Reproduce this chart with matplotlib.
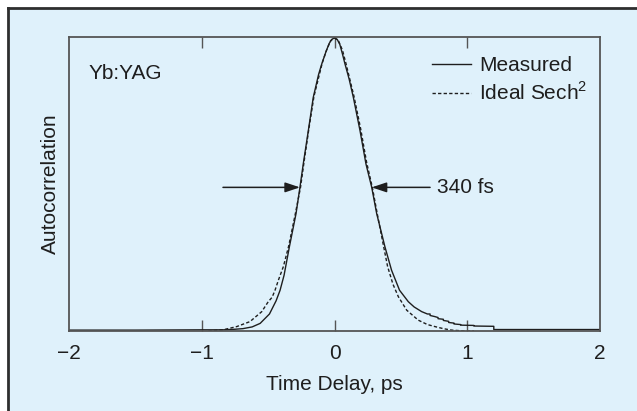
import matplotlib

matplotlib.use("Agg")
import matplotlib.pyplot as plt
from matplotlib.lines import Line2D
from matplotlib.patches import Rectangle

plt.rcParams["font.family"] = ["Liberation Sans", "DejaVu Sans"]
plt.rcParams["mathtext.fontset"] = "custom"
plt.rcParams["mathtext.rm"] = "Liberation Sans"

BG = "#dff1fb"
INK = "#1e1e1e"
FRAME = "#555555"

# measured autocorrelation trace (time delay in ps, normalised signal)
measured_t = [
    -2.00, -1.50, -1.00, -0.84, -0.75, -0.69, -0.62, -0.56, -0.49, -0.44,
    -0.41, -0.38, -0.34, -0.29, -0.26, -0.235, -0.197, -0.16, -0.12, -0.096,
    -0.065, -0.04, -0.02, 0.0, 0.02, 0.04, 0.06, 0.079, 0.11, 0.142,
    0.192, 0.237, 0.28, 0.318, 0.38, 0.43, 0.49, 0.556, 0.60, 0.657,
    0.70, 0.72, 0.72, 0.757, 0.78, 0.78, 0.82, 0.82, 0.86, 0.86,
    0.90, 0.90, 0.95, 0.95, 1.05, 1.05, 1.20, 1.20, 2.00,
]
measured_y = [
    0.003, 0.003, 0.004, 0.004, 0.006, 0.008, 0.014, 0.026, 0.058, 0.103,
    0.139, 0.190, 0.287, 0.400, 0.491, 0.571, 0.684, 0.797, 0.875, 0.911,
    0.952, 0.981, 0.995, 1.000, 0.995, 0.978, 0.945, 0.911, 0.860, 0.797,
    0.684, 0.570, 0.491, 0.400, 0.287, 0.207, 0.139, 0.100, 0.082, 0.066,
    0.058, 0.058, 0.053, 0.049, 0.046, 0.042, 0.040, 0.036, 0.033, 0.029,
    0.027, 0.024, 0.022, 0.020, 0.019, 0.017, 0.016, 0.005, 0.005,
]

# ideal sech^2 autocorrelation
ideal_t = [
    -0.95, -0.84, -0.737, -0.637, -0.548, -0.499, -0.47, -0.448, -0.423, -0.385,
    -0.345, -0.295, -0.256, -0.23, -0.193, -0.155, -0.092, -0.06, -0.03, 0.0,
    0.03, 0.06, 0.085, 0.147, 0.197, 0.242, 0.285, 0.322, 0.365, 0.40,
    0.44, 0.481, 0.544, 0.631, 0.70, 0.757, 0.82, 0.883, 0.98, 1.05,
]
ideal_y = [
    0.000, 0.004, 0.015, 0.032, 0.066, 0.100, 0.115, 0.139, 0.173, 0.220,
    0.290, 0.400, 0.490, 0.575, 0.690, 0.800, 0.915, 0.958, 0.990, 1.000,
    0.990, 0.958, 0.915, 0.800, 0.690, 0.575, 0.490, 0.400, 0.300, 0.220,
    0.160, 0.117, 0.071, 0.037, 0.022, 0.015, 0.008, 0.003, 0.000, 0.000,
]

x_ticks = [-2, -1, 0, 1, 2]
x_tick_labels = ["\u22122", "\u22121", "0", "1", "2"]
half_max = 0.49
arrow_left = (-0.84, -0.26)
arrow_right = (0.72, 0.28)


def draw_background(fig):
    fig.patch.set_facecolor("white")
    fig.add_artist(Rectangle((8 / 637, 0), 1, 1 - 9 / 411, transform=fig.transFigure,
                             facecolor=BG, edgecolor="none", zorder=-2))
    top = 1 - 8.5 / 411
    fig.add_artist(Line2D([8 / 637, 1], [top, top], color="#2e2e2e", lw=2.0))
    fig.add_artist(Line2D([8 / 637, 8 / 637], [0, top], color="#2e2e2e", lw=2.0))


def main():
    fig = plt.figure(figsize=(6.37, 4.11), dpi=100)
    draw_background(fig)
    ax = fig.add_axes([69 / 637, 80 / 411, 531 / 637, 294 / 411])
    ax.set_facecolor(BG)

    ax.plot(measured_t, measured_y, color=INK, lw=1.0, label="Measured")
    ax.plot(ideal_t, ideal_y, color=INK, lw=1.0, dashes=(2.4, 1.6), label="Ideal Sech$^2$")

    ax.set_xlim(-2, 2)
    ax.set_ylim(0, 1.003)
    ax.set_xticks(x_ticks)
    ax.set_xticklabels(x_tick_labels)
    ax.set_yticks([])
    ax.tick_params(axis="x", direction="in", length=8, width=1.0, color=FRAME,
                   top=True, labelsize=15, labelcolor=INK, pad=9)
    for tick in ax.xaxis.get_major_ticks():
        if tick.get_loc() in (-2, 2):
            tick.tick1line.set_visible(False)
            tick.tick2line.set_visible(False)
    for spine in ax.spines.values():
        spine.set_color(FRAME)
        spine.set_linewidth(1.3)

    ax.set_xlabel("Time Delay, ps", fontsize=15, color=INK)
    ax.xaxis.set_label_coords(0.5, -0.15)
    ax.xaxis.label.set_va("top")
    ax.set_ylabel("Autocorrelation", fontsize=15, color=INK)
    ax.yaxis.set_label_coords(-0.017, 0.5)

    ax.text(-1.85, 0.88, "Yb:YAG", fontsize=15, color=INK, ha="left", va="center")

    head = dict(arrowstyle="-|>,head_length=0.6,head_width=0.2", mutation_scale=15,
                color=INK, lw=1.1, shrinkA=0, shrinkB=0)
    ax.annotate("", xy=(arrow_left[1], half_max), xytext=(arrow_left[0], half_max), arrowprops=head)
    ax.annotate("", xy=(arrow_right[1], half_max), xytext=(arrow_right[0], half_max), arrowprops=head)
    ax.text(0.772, half_max, "340 fs", fontsize=15, color=INK, ha="left", va="center")

    ax.legend(loc="upper left", bbox_to_anchor=(432 / 637, 1 - 56 / 411),
              bbox_transform=fig.transFigure, frameon=False, fontsize=15,
              handlelength=1.85, handletextpad=0.42, labelspacing=0.32,
              borderpad=0, borderaxespad=0, labelcolor=INK)

    fig.savefig("out.png", dpi=100, facecolor=fig.get_facecolor())
    plt.close(fig)


if __name__ == "__main__":
    main()
